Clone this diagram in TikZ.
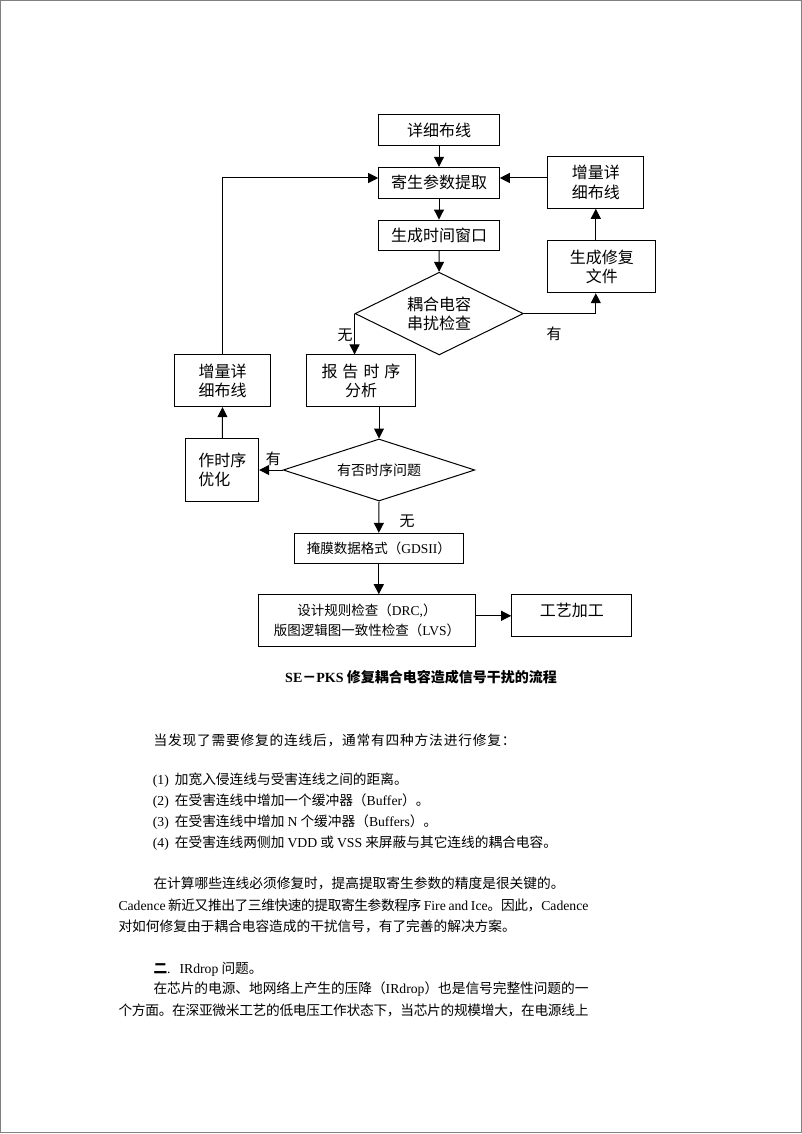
\documentclass[tikz,border=0pt]{standalone}
\usepackage{fontspec}
\setmainfont{Noto Sans CJK SC}
\newfontfamily\tms{Liberation Serif}
\newcommand{\en}[1]{{\tms #1}}
\usetikzlibrary{arrows.meta,shapes,positioning}
% stretchable space between CJK characters
\newcount\cjkc
\cjkc="4E00
\loop\ifnum\cjkc<"A000 \XeTeXcharclass\cjkc=7 \advance\cjkc by 1 \repeat
\cjkc="3000
\loop\ifnum\cjkc<"3040 \XeTeXcharclass\cjkc=7 \advance\cjkc by 1 \repeat
\cjkc="FF00
\loop\ifnum\cjkc<"FFF0 \XeTeXcharclass\cjkc=7 \advance\cjkc by 1 \repeat
\XeTeXinterchartokenstate=1
\XeTeXinterchartoks 7 7 = {\hskip 0pt plus 2pt minus 0.6pt\relax}

\begin{document}
\begin{tikzpicture}[x=1pt,y=-1pt,
  box/.style={draw,line width=1pt,inner sep=0pt,align=center,font=\fontsize{16pt}{19.5pt}\selectfont},
  dia/.style={draw,diamond,aspect=2,line width=1pt,inner sep=0pt,align=center,font=\fontsize{16pt}{19pt}\selectfont},
  arr/.style={line width=1pt,-{Triangle[length=10pt,width=10pt]}},
  lab/.style={inner sep=0pt,font=\fontsize{15pt}{15pt}\selectfont},
  txt/.style={inner sep=0pt,anchor=west,font=\fontsize{13.7pt}{21pt}\selectfont}]
\useasboundingbox (0,0) rectangle (802,1134);
\draw[gray,line width=1.2pt] (0.6,0.6) rectangle (801.2,1132.6);
% flow chart
\node[box,minimum width=120.6pt,minimum height=31pt] (A1) at (439,130.5) {详细布线};
\node[box,minimum width=120.6pt,minimum height=31pt] (A2) at (439,182.8) {寄生参数提取};
\node[box,minimum width=120.6pt,minimum height=30.3pt] (A3) at (439,235.2) {生成时间窗口};
\node[dia,minimum width=168.3pt,minimum height=82.7pt] (D1) at (439.2,313.6) {耦合电容\\串扰检查};
\node[box,minimum width=96.3pt,minimum height=51.6pt] (R1) at (595.8,182.5) {增量详\\细布线};
\node[box,minimum width=108.3pt,minimum height=52pt] (R2) at (601.8,266.7) {生成修复\\文件};
\node[box,minimum width=96.4pt,minimum height=51.7pt] (L1) at (222.5,380.8) {增量详\\细布线};
\node[box,minimum width=108.6pt,minimum height=51.7pt] (A4) at (361,380.8) {报\hspace{5pt}告\hspace{5pt}时\hspace{5pt}序\\分析};
\node[dia,minimum width=191.7pt,minimum height=62pt,font=\fontsize{14pt}{14pt}\selectfont] (D2) at (379,470) {有否时序问题};
\node[box,minimum width=72.7pt,minimum height=62.7pt,align=left] (L2) at (222.3,469.7) {作时序\\优化};
\node[box,minimum width=169pt,minimum height=30.4pt,font=\fontsize{13.5pt}{20pt}\selectfont] (A5) at (378.8,548.5) {掩膜数据格式（\en{GDSII}）};
\node[box,minimum width=216.6pt,minimum height=52pt,font=\fontsize{13.5pt}{20pt}\selectfont] (A6) at (367,620.7) {设计规则检查（\en{DRC,}）\\版图逻辑图一致性检查（\en{LVS}）};
\node[box,minimum width=120.3pt,minimum height=42.3pt,text depth=13pt] (A7) at (571.8,615.8) {工艺加工};
\coordinate (M) at (0,178);
\draw[arr] (A1) -- (A2);
\draw[arr] (A2) -- (A3);
\draw[arr] (A3) -- (D1);
\draw[arr] (D1.east) -| (R2.south -| R1.south);
\draw[arr] (R2.north -| R1.south) -- (R1.south);
\draw[arr] (R1.west |- M) -- (A2.east |- M);
\draw[arr] (D1.west) -- (D1.west |- A4.north);
\draw[arr] (L1.north) |- (A2.west |- M);
\draw[arr] (D2.north |- A4.south) -- (D2.north);
\draw[arr] (D2.west) -- (L2.east |- D2.west);
\draw[arr] (L2.north) -- (L1.south);
\draw[arr] (D2.south) -- (A5.north);
\draw[arr] (A5.south) -- (A5.south |- A6.north);
\draw[arr] (A6.east |- A7.west) -- (A7.west);
\node[lab] (N1) at (345,335) {无};
\node[lab] (Y1) at (554,334) {有};
\node[lab] (Y2) at (273.3,458.3) {有};
\node[lab] (N2) at (407,521.7) {无};
\node[inner sep=0pt,font=\bfseries\fontsize{14pt}{14pt}\selectfont] (CAP) at (421,677.5) {\en{SE}－\en{PKS} 修复耦合电容造成信号干扰的流程};
% text below
\node[txt] (T1) at (153.3,740) {\makebox[362pt][s]{当发现了需要修复的连线后，通常有四种方法进行修复：}};
\node[txt] (T2) at (152.7,780) {\en{(1)}\hspace{6pt}加宽入侵连线与受害连线之间的距离。};
\node[txt] (T3) at (152.7,800.7) {\en{(2)}\hspace{6pt}在受害连线中增加一个缓冲器（\en{Buffer}）。};
\node[txt] (T4) at (152.7,821.7) {\en{(3)}\hspace{6pt}在受害连线中增加 \en{N} 个缓冲器（\en{Buffers}）。};
\node[txt] (T5) at (152.7,843.3) {\en{(4)}\hspace{6pt}在受害连线两侧加 \en{VDD} 或 \en{VSS} 来屏蔽与其它连线的耦合电容。};
\node[txt] (T6) at (153.3,883.3) {在计算哪些连线必须修复时，提高提取寄生参数的精度是很关键的。};
\node[txt] (T7) at (118.3,905.7) {\makebox[470pt][s]{\en{Cadence} 新近又推出了三维快速的提取寄生参数程序 \en{Fire and Ice}。因此，\en{Cadence}}};
\node[txt] (T8) at (118.3,926.7) {对如何修复由于耦合电容造成的干扰信号，有了完善的解决方案。};
\node[txt] (T9) at (153.3,969.3) {{\bfseries 二}\en{.}\hspace{9pt}\en{IRdrop} 问题。};
\node[txt] (T10) at (153.3,989.3) {\makebox[435pt][s]{在芯片的电源、地网络上产生的压降（\en{IRdrop}）也是信号完整性问题的一}};
\node[txt] (T11) at (118.3,1010) {\makebox[470pt][s]{个方面。在深亚微米工艺的低电压工作状态下，当芯片的规模增大，在电源线上}};
\end{tikzpicture}
\end{document}
